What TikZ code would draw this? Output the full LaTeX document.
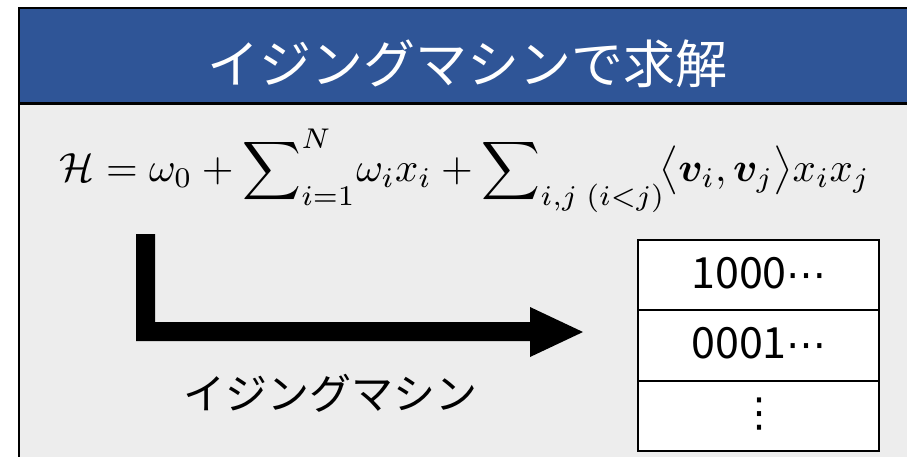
\documentclass[tikz,border=0pt]{standalone}
\usepackage{fontspec}
\usepackage{amsmath,amssymb,bm}
\usepackage{graphicx}
\newfontfamily\jpfont{Noto Sans CJK JP}
\newfontfamily\symfont{DejaVu Sans}
\definecolor{hdrblue}{HTML}{2F5597}
\definecolor{bodygray}{HTML}{EDEDED}
\newcommand{\mydots}{{\symfont\fontsize{40}{44}\selectfont ⋯}}
\begin{document}
\begin{tikzpicture}[x=1pt,y=-1pt,
  cellbox/.style={draw=black,line width=2.5pt,fill=white},
  celltext/.style={font=\jpfont\fontsize{43}{46}\selectfont,anchor=base,inner sep=0pt},
  frameline/.style={draw=black,line width=2.5pt}]
\useasboundingbox (0,0) rectangle (907,456);
% body and header
\fill[bodygray] (19,8) rectangle (912,462);
\fill[hdrblue] (19,8) rectangle (912,103.5);
\draw[frameline] (19,8) rectangle (912,462);
\draw[frameline] (19,103.5) -- (912,103.5);
\node[font=\jpfont\fontsize{52}{56}\selectfont,text=white,anchor=base,inner sep=0pt] (title) at (467,83) {イジングマシンで求解};
% formula
\node[anchor=base,inner sep=0pt] (formula) at (465,181) {\resizebox{810pt}{!}{$\mathcal{H}=\omega_0+\displaystyle\sum\nolimits_{i=1}^{N}\!\omega_i x_i+\sum\nolimits_{i,j\;(i<j)}\!\bigl\langle\bm{v}_i,\bm{v}_j\bigr\rangle x_i x_j$}};
% arrow
\fill[black] (136,234) -- (155,234) -- (155,322) -- (530,322) -- (530,307) -- (583,332) -- (530,357) -- (530,341) -- (136,341) -- cycle;
\node[font=\jpfont\fontsize{42}{46}\selectfont,anchor=base,inner sep=0pt] (label) at (330,409) {イジングマシン};
% table
\draw[cellbox] (638,240) rectangle (879,310);
\draw[cellbox] (638,310) rectangle (879,381);
\draw[cellbox] (638,381) rectangle (879,451);
\node[celltext] (r1) at (759,288) {1000\mydots};
\node[celltext] (r2) at (759,358) {0001\mydots};
\node[inner sep=0pt,anchor=center,font=\symfont\fontsize{40}{44}\selectfont] (r3) at (759,414) {⋮};
\end{tikzpicture}
\end{document}
